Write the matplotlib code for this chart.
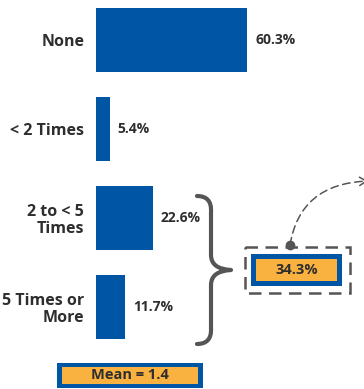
import matplotlib
matplotlib.use("Agg")
import matplotlib.pyplot as plt
from matplotlib.patches import Rectangle, FancyArrowPatch, PathPatch
from matplotlib.path import Path

categories = ["None", "< 2 Times", "2 to < 5\nTimes", "5 Times or\nMore"]
values = [60.3, 5.4, 22.6, 11.7]
group_total = "34.3%"
mean_label = "Mean = 1.4"

BLUE = "#0055A5"
ORANGE = "#F9B13F"
TEXT = "#2E2E2E"
GRAY = "#555555"

plt.rcParams["font.family"] = ["Open Sans", "DejaVu Sans"]

W, H = 364, 389
fig = plt.figure(figsize=(W / 100, H / 100), dpi=100)

# bar axes, placed in pixel units
ax = fig.add_axes([96 / W, 1 - 356 / H, 250 / W, 356 / H])
ax.barh(range(len(values)), values, height=0.72, color=BLUE)
ax.set_xlim(0, 100)
ax.set_ylim(3.55, -0.45)
ax.set_yticks(range(len(categories)))
ax.set_yticklabels(categories, fontsize=11.5, fontweight="bold", color=TEXT,
                   linespacing=1.1)
ax.tick_params(axis="y", length=0, pad=8.5)
ax.set_xticks([])
for s in ax.spines.values():
    s.set_visible(False)
for i, v in enumerate(values):
    ax.text(v + 3.3, i, f"{v}%", va="center", ha="left",
            fontsize=10, fontweight="bold", color=TEXT)

# overlay in pixel coordinates for brace, boxes, arrow
ov = fig.add_axes([0, 0, 1, 1])
ov.set_xlim(0, W)
ov.set_ylim(H, 0)
ov.axis("off")
ov.patch.set_alpha(0)

# curly brace
verts = [(197, 196), (212, 196), (211, 212),
         (211, 255), (211, 269), (231, 270),
         (211, 271), (211, 285),
         (211, 328), (212, 344), (197, 344)]
codes = [Path.MOVETO, Path.CURVE3, Path.CURVE3,
         Path.LINETO, Path.CURVE3, Path.CURVE3,
         Path.CURVE3, Path.CURVE3,
         Path.LINETO, Path.CURVE3, Path.CURVE3]
ov.add_patch(PathPatch(Path(verts, codes), fill=False, edgecolor=GRAY,
                       lw=3.0, capstyle="round", joinstyle="round"))

# dashed outer box and highlighted total
ov.add_patch(Rectangle((245, 247), 105, 46, fill=False, edgecolor=GRAY,
                       lw=1.8, linestyle=(0, (5, 3))))
ov.add_patch(Rectangle((251, 254), 91, 32, facecolor=BLUE, edgecolor="none"))
ov.add_patch(Rectangle((256, 259), 81, 22, facecolor=ORANGE, edgecolor="none"))
ov.text(296.5, 270, group_total, ha="center", va="center",
        fontsize=10.5, fontweight="bold", color=TEXT)

# curved dashed arrow
arrow_path = Path([(290, 245), (300, 184), (368, 181)],
                  [Path.MOVETO, Path.CURVE3, Path.CURVE3])
ov.add_patch(FancyArrowPatch(path=arrow_path, arrowstyle="->,head_length=5,head_width=3",
                             color=GRAY, lw=1.1, linestyle=(0, (5, 3))))
ov.plot([290], [245], "o", color=GRAY, markersize=6)

# mean box
ov.add_patch(Rectangle((57, 363), 146, 25, facecolor=BLUE, edgecolor="none"))
ov.add_patch(Rectangle((62, 367), 136, 17, facecolor=ORANGE, edgecolor="none"))
ov.text(130, 375, mean_label, ha="center", va="center",
        fontsize=10.5, fontweight="bold", color=TEXT)

fig.savefig("out.png", dpi=100)
